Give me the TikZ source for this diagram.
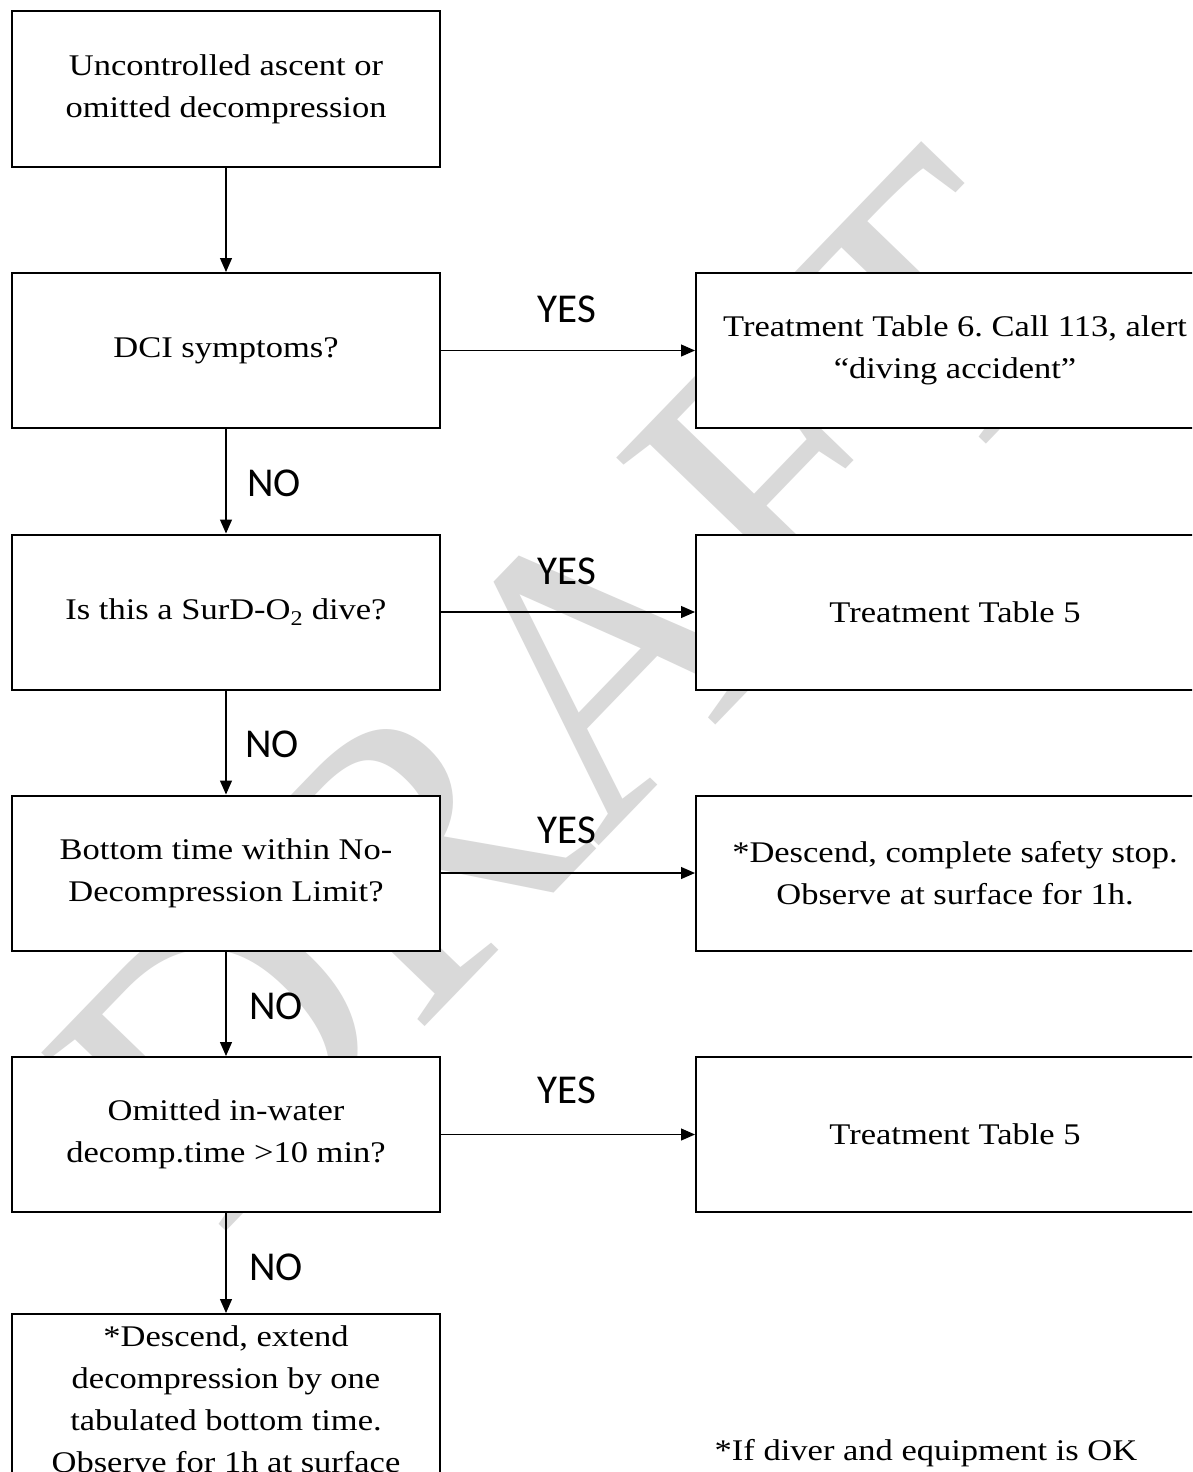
\documentclass[tikz,border=0pt]{standalone}
\usepackage{fontspec}
\setmainfont[FakeStretch=1.15]{Liberation Serif}
\newfontfamily\labelfont{Carlito}
\newfontfamily\wmfont{Liberation Serif}
\usetikzlibrary{arrows.meta}
\definecolor{wm}{RGB}{217,217,217}
\frenchspacing
\begin{document}
\begin{tikzpicture}[x=1pt,y=-1pt,
  box/.style={draw, line width=2pt, fill=white, minimum width=428pt, minimum height=155pt,
    align=center, inner sep=0pt, font=\fontsize{30}{42}\selectfont},
  rbox/.style={box, minimum width=518pt},
  lbl/.style={font=\labelfont\fontsize{41}{41}\selectfont, inner sep=0pt},
  arr/.style={line width=1.2pt, -{Triangle[length=14pt,width=12pt]}},
  note/.style={font=\fontsize{30}{36}\selectfont, inner sep=0pt}
]
\useasboundingbox (0,0) rectangle (1192,1472);
\clip (0,0) rectangle (1192,1472);
\fill[white] (0,0) rectangle (1192,1472);
% watermark
\node[rotate=46, text=wm, inner sep=0pt, font=\wmfont\fontsize{392}{392}\selectfont] (wmark) at (572,688) {DRAFT};
% left column
\node[box] (b1) at (226,89) {Uncontrolled ascent or\\omitted decompression};
\node[box] (b2) at (226,350.5) {DCI symptoms?};
\node[box] (b3) at (226,612) {Is this a SurD-O\textsubscript{2} dive?};
\node[box] (b4) at (226,873) {Bottom time within No-\\Decompression Limit?};
\node[box] (b5) at (226,1134.5) {Omitted in-water\\decomp.time >10 min?};
\node[box, minimum height=170pt] (b6) at (226,1399) {*Descend, extend\\decompression by one\\tabulated bottom time.\\Observe for 1h at surface};
% right column
\node[rbox] (r1) at (955,350.5) {Treatment Table 6. Call 113, alert\\“diving accident”};
\node[rbox] (r2) at (955,612) {Treatment Table 5};
\node[rbox] (r3) at (955,873) {*Descend, complete safety stop.\\Observe at surface for 1h.};
\node[rbox] (r4) at (955,1134.5) {Treatment Table 5};
% connectors
\draw[arr] (b1) -- (b2);
\draw[arr] (b2) -- (b3);
\draw[arr] (b3) -- (b4);
\draw[arr] (b4) -- (b5);
\draw[arr] (b5) -- (b6.north);
\draw[arr] (b2) -- (r1);
\draw[arr] (b3) -- (r2);
\draw[arr] (b4) -- (r3);
\draw[arr] (b5) -- (r4);
% labels
\node[lbl] (n1) at (274,483) {NO};
\node[lbl] (n2) at (272,744) {NO};
\node[lbl] (n3) at (276,1006) {NO};
\node[lbl] (n4) at (276,1267) {NO};
\node[lbl] (y1) at (567,309) {YES};
\node[lbl] (y2) at (567,571) {YES};
\node[lbl] (y3) at (567,830) {YES};
\node[lbl] (y4) at (567,1090) {YES};
\node[note, anchor=base] (fn) at (926,1460) {*If diver and equipment is OK};
\end{tikzpicture}
\end{document}
